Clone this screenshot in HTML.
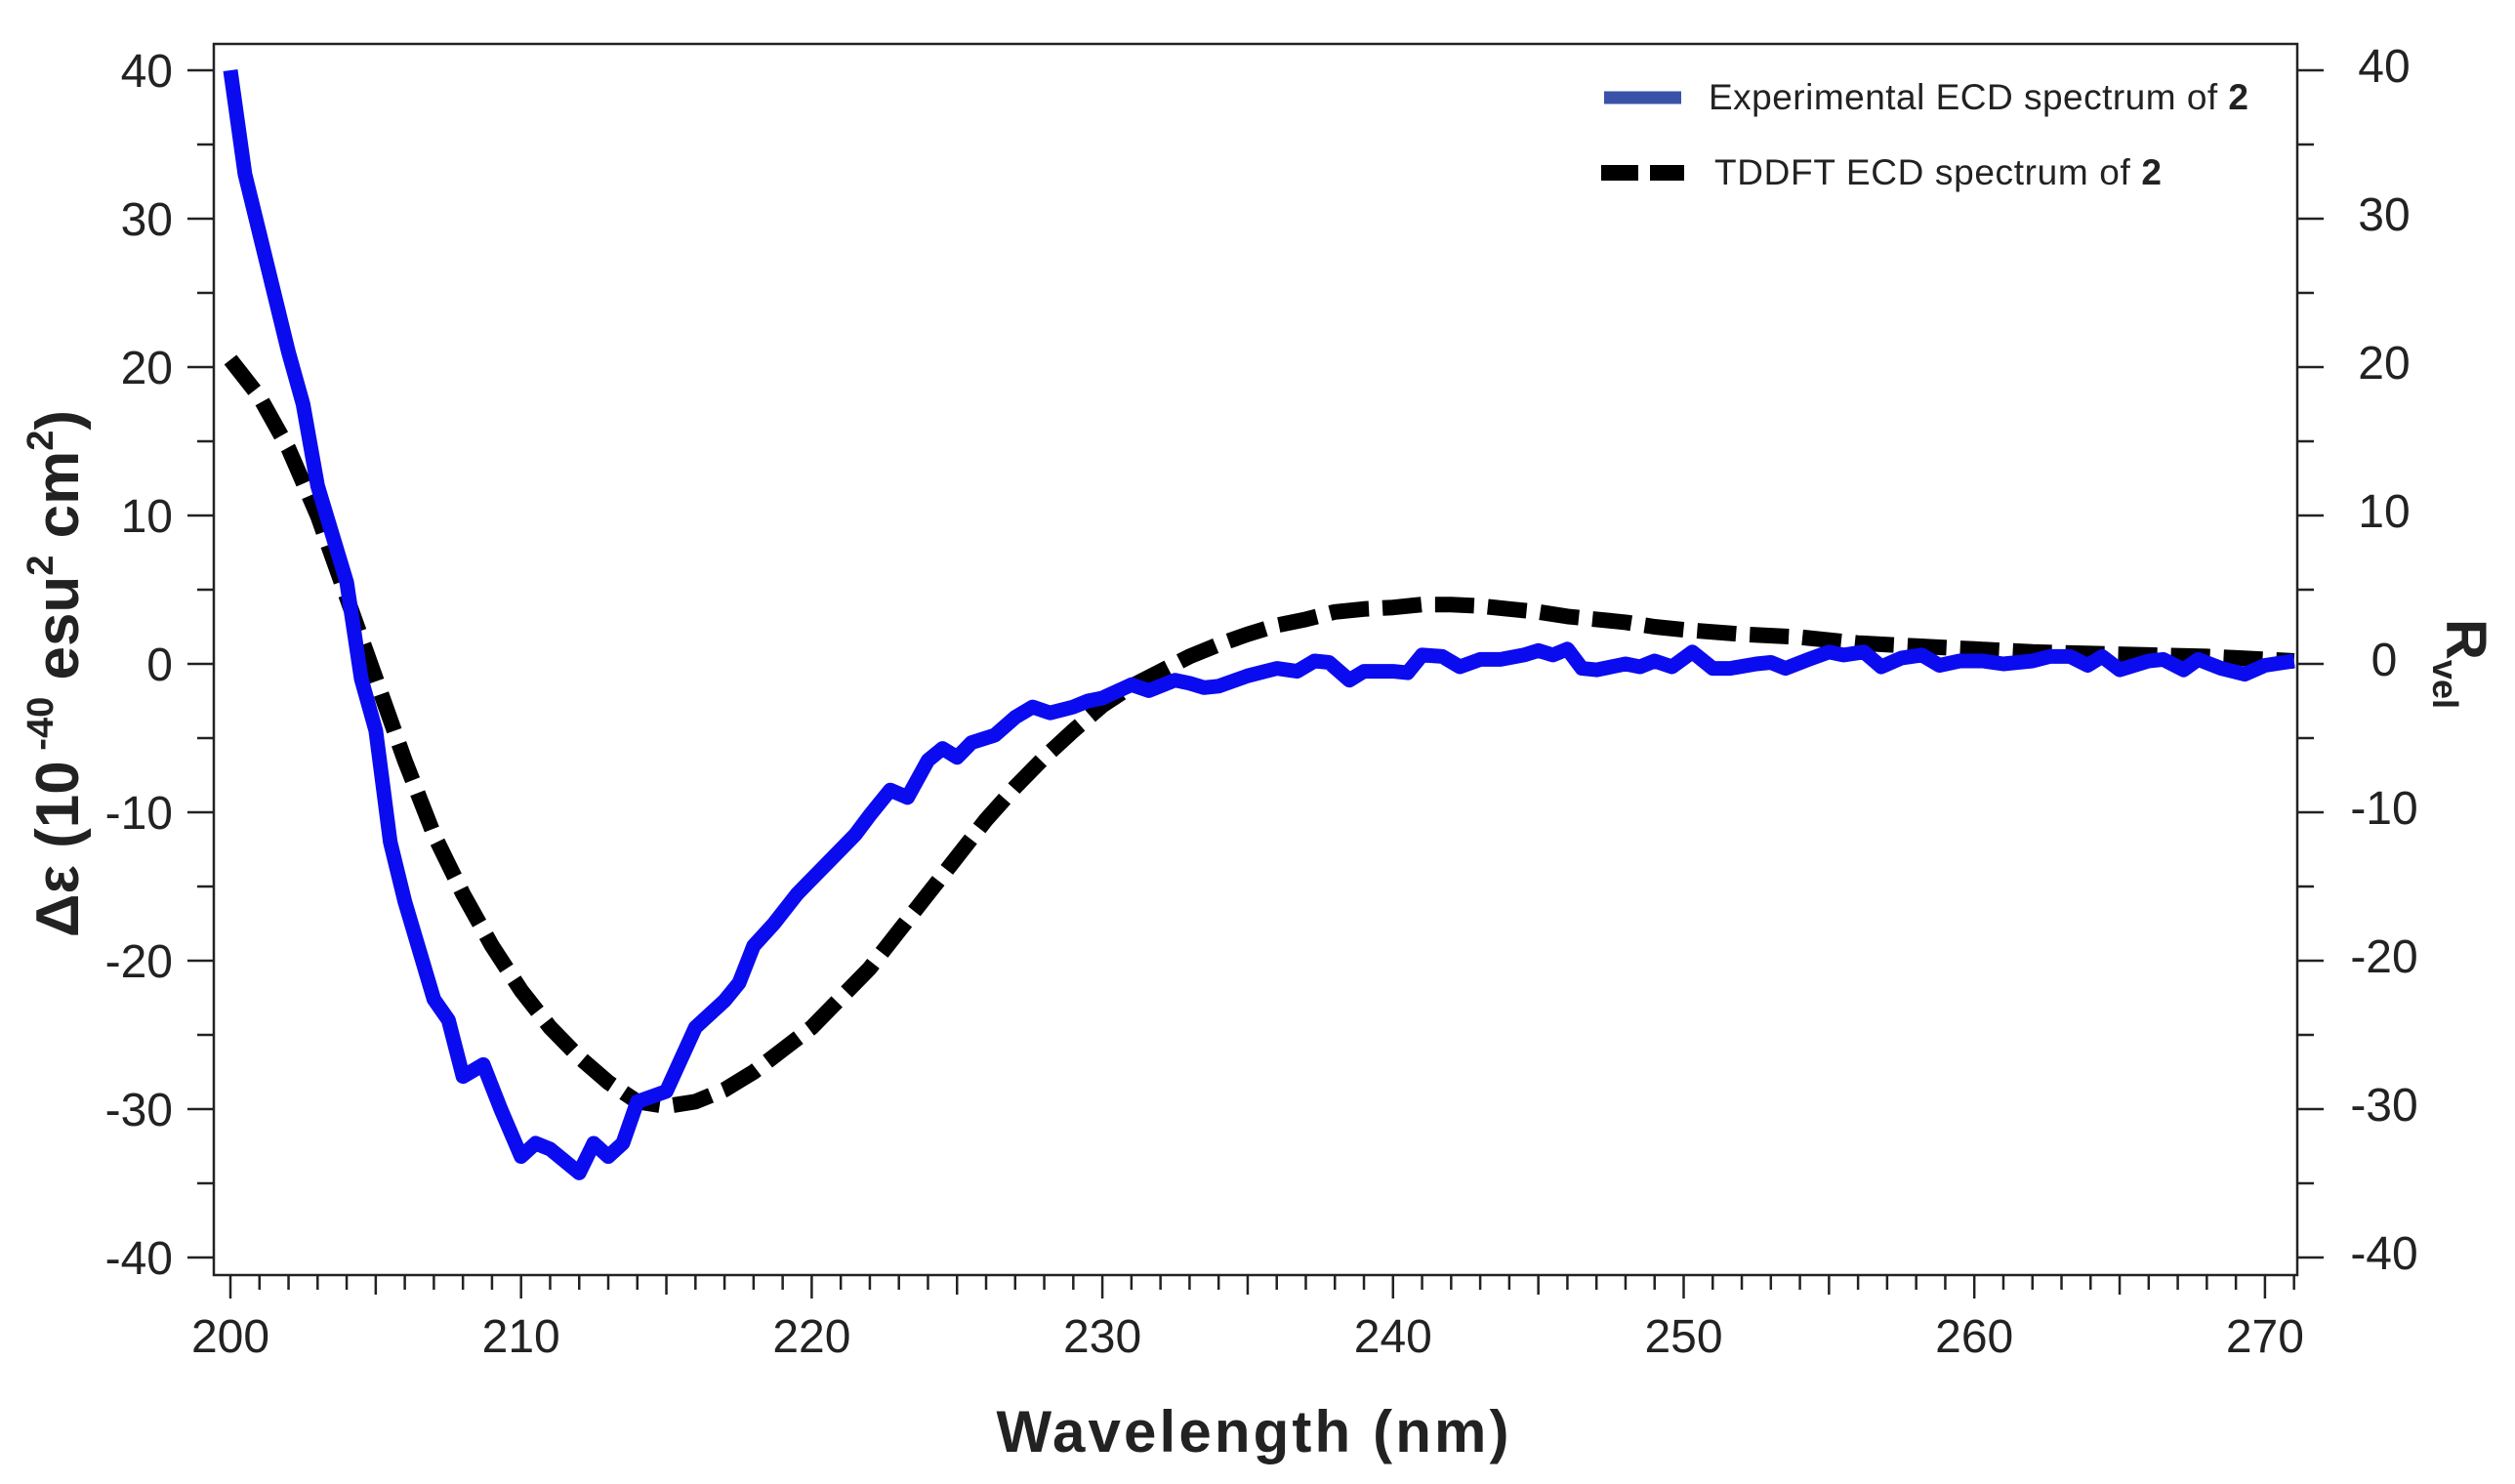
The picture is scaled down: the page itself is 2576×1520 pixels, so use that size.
<!DOCTYPE html>
<html><head><meta charset="utf-8"><style>
html,body{margin:0;padding:0;background:#fff;}
svg{display:block;font-family:"Liberation Sans",Arial,sans-serif;}
</style></head><body>
<svg id="chart" width="2576" height="1520" viewBox="0 0 2576 1520" xmlns="http://www.w3.org/2000/svg">
<g id="axes"></g>
<g id="series"></g>
<g id="legend">
  <line x1="1643" y1="100" x2="1722" y2="100" stroke="#3a52a8" stroke-width="13"/>
  <text x="1750" y="112" font-size="37" textLength="553" fill="#222">Experimental ECD spectrum of <tspan font-weight="bold">2</tspan></text>
  <line x1="1640" y1="177" x2="1725" y2="177" stroke="#000" stroke-width="16" stroke-dasharray="38,12"/>
  <text x="1756" y="189" font-size="37" textLength="458" fill="#222">TDDFT ECD spectrum of <tspan font-weight="bold">2</tspan></text>
</g>
<text x="1283" y="1487" font-size="60" font-weight="bold" text-anchor="middle" textLength="525" fill="#222">Wavelength (nm)</text>
<text transform="translate(80,690) rotate(-90)" font-size="62" font-weight="bold" text-anchor="middle" fill="#222">Δε (10<tspan font-size="38" dy="-26"> -40</tspan><tspan dy="26"> esu</tspan><tspan font-size="38" dy="-26">2</tspan><tspan dy="26"> cm</tspan><tspan font-size="38" dy="-26">2</tspan><tspan dy="26">)</tspan></text>
<text transform="translate(2506,680) rotate(90)" font-size="58" font-weight="bold" text-anchor="middle" fill="#222">R<tspan font-size="36" dy="14">vel</tspan></text>
</svg>
<script>
const xTicks = [200,210,220,230,240,250,260,270];
const yTicks = [40,30,20,10,0,-10,-20,-30,-40];
const expX = [200,200.5,201,202,202.5,203,204,204.5,205,205.5,206,207,207.5,208,208.7,209.3,210,210.5,211,211.5,212,212.5,213,213.5,214,215,216,217,217.5,218,218.7,219.5,220,221,221.5,222,222.7,223.3,224,224.5,225,225.5,226.3,227,227.6,228.2,229,229.5,230,231,231.6,232.5,233,233.5,234,235,236,236.7,237.3,237.8,238.5,239,240,240.5,241,241.7,242.3,243,243.7,244.5,245,245.5,246,246.5,247,248,248.5,249,249.6,250.3,251,251.6,252.5,253,253.5,254.3,255,255.5,256.2,256.8,257.5,258.2,258.8,259.5,260.3,261,262,262.6,263.3,263.9,264.4,265,266,266.5,267.2,267.7,268.5,269.3,270,271];
const expY = [40,33,29,21,17.5,12,5.5,-1,-4.5,-12,-16,-22.6,-24,-27.8,-27,-30,-33.2,-32.3,-32.7,-33.5,-34.3,-32.3,-33.2,-32.3,-29.5,-28.8,-24.5,-22.7,-21.5,-19,-17.5,-15.5,-14.5,-12.5,-11.5,-10.2,-8.5,-9,-6.5,-5.7,-6.3,-5.3,-4.8,-3.6,-2.9,-3.3,-2.9,-2.5,-2.3,-1.4,-1.8,-1.1,-1.3,-1.6,-1.5,-0.8,-0.3,-0.5,0.2,0.1,-1.1,-0.5,-0.5,-0.6,0.6,0.5,-0.2,0.3,0.3,0.6,0.9,0.6,1.0,-0.3,-0.4,0,-0.2,0.2,-0.2,0.8,-0.3,-0.3,0,0.1,-0.3,0.3,0.8,0.6,0.8,-0.2,0.4,0.6,-0.1,0.2,0.2,0,0.2,0.5,0.5,-0.1,0.5,-0.4,0.2,0.3,-0.4,0.3,-0.3,-0.7,-0.1,0.2];
const calcX = [200,201,202,203,204,205,206,207,208,209,210,211,212,213,214,215,216,217,218,219,220,221,222,223,224,225,226,227,228,229,230,231,232,233,234,235,236,237,238,239,240,241,242,243,244,245,246,247,248,249,250,252,254,256,258,260,262,264,266,268,270,271];
const calcY = [20.5,18,14.5,10,4.5,-1,-6.5,-11.5,-15.5,-19,-22,-24.5,-26.5,-28.2,-29.5,-29.8,-29.5,-28.7,-27.5,-26,-24.5,-22.5,-20.5,-18,-15.5,-13,-10.5,-8.3,-6.3,-4.5,-2.8,-1.5,-0.5,0.5,1.3,2,2.6,3,3.5,3.7,3.8,4,4,3.9,3.7,3.5,3.2,3.0,2.8,2.5,2.3,2.0,1.8,1.4,1.2,1.0,0.8,0.7,0.6,0.5,0.3,0.2];

const NS='http://www.w3.org/2000/svg';
const L=219,R=2353,T=45,B=1306;
function sx(v){return 236+(v-200)*29.77;}
function sy(v){return 680-v*15.2;}
function mk(tag,attrs,parent){const e=document.createElementNS(NS,tag);for(const k in attrs)e.setAttribute(k,attrs[k]);parent.appendChild(e);return e;}
const ax=document.getElementById('axes');
const frame=mk('rect',{x:L,y:T,width:R-L,height:B-T,fill:'none',stroke:'#222','stroke-width':2.5},ax);


for(let v=200;v<=271;v++){
  const major=v%10===0, mid=v%5===0;
  const t=mk('line',{x1:sx(v),x2:sx(v),y1:B,y2:B+(major?24:(mid?20:15)),stroke:'#222','stroke-width':2.5},ax);
  
  
}
xTicks.forEach(v=>{
  const t=mk('text',{x:sx(v),y:1385,'font-size':48,'text-anchor':'middle',fill:'#222'},ax);
  t.textContent=v;
  
  
});
for(let v=-40;v<=40;v+=5){
  const major=v%10===0;
  const len=major?27:17;
  const a=mk('line',{x1:L-len,x2:L,y1:sy(v),y2:sy(v),stroke:'#222','stroke-width':2.5},ax);
  
  
  const b=mk('line',{x1:R,x2:R+len,y1:sy(v),y2:sy(v),stroke:'#222','stroke-width':2.5},ax);
  
  
}
yTicks.forEach(v=>{
  const a=mk('text',{x:177,y:sy(v)+17,'font-size':48,'text-anchor':'end',fill:'#222'},ax);
  a.textContent=v;
  
  
  const b=mk('text',{x:2442,y:sy(v)+12,'font-size':48,'text-anchor':'middle',fill:'#222'},ax);
  b.textContent=v;
  
  
});
const se=document.getElementById('series');
const pc=calcX.map((x,i)=>sx(x).toFixed(1)+','+sy(calcY[i]).toFixed(1)).join(' ');
const lc=mk('polyline',{points:pc,fill:'none',stroke:'#000','stroke-width':16,'stroke-dasharray':'40,14','stroke-linejoin':'round'},se);


const pe=expX.map((x,i)=>sx(x).toFixed(1)+','+sy(expY[i]).toFixed(1)).join(' ');
const le=mk('polyline',{points:pe,fill:'none',stroke:'#0b0bf0','stroke-width':15,'stroke-linejoin':'round'},se);


</script>
</body></html>
